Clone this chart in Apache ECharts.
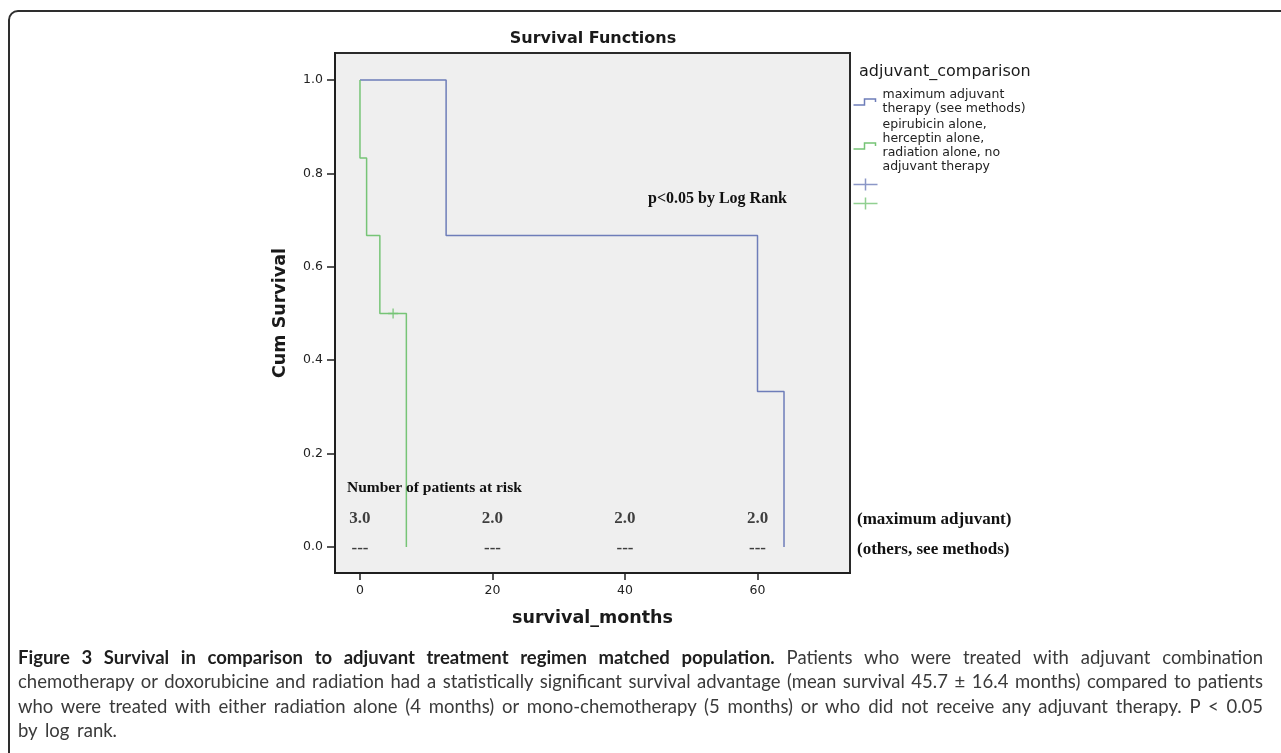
<!DOCTYPE html>
<html>
<head>
<meta charset="utf-8">
<script src="https://cdn.jsdelivr.net/npm/echarts@6/dist/echarts.min.js"></script>
<style>
  html, body { margin: 0; padding: 0; background: #fff; overflow: hidden; width: 1281px; height: 753px; }
  #frame { position: absolute; left: 8px; top: 10px; width: 1300px; height: 780px; border: 2px solid #2e2e2e; border-radius: 10px; box-sizing: border-box; }
  #chart { position: absolute; left: 0; top: 0; width: 1281px; height: 753px; }
  #caption { position: absolute; left: 18px; top: 645px; width: 1245px; font-family: Lato, 'Open Sans', sans-serif; font-size: 18.5px; line-height: 24.3px; color: #3a3a3a; }
  #caption .j { text-align: justify; text-align-last: justify; white-space: nowrap; }
  #caption b { color: #1e1e1e; font-weight: 700; }
  #caption .last { word-spacing: 3px; }
</style>
</head>
<body>
<div id="frame"></div>
<div id="chart"></div>
<div id="caption">
  <div class="j"><b>Figure 3 Survival in comparison to adjuvant treatment regimen matched population.</b> Patients who were treated with adjuvant combination</div>
  <div class="j">chemotherapy or doxorubicine and radiation had a statistically significant survival advantage (mean survival 45.7 ± 16.4 months) compared to patients</div>
  <div class="j">who were treated with either radiation alone (4 months) or mono-chemotherapy (5 months) or who did not receive any adjuvant therapy. P &lt; 0.05</div>
  <div class="last">by log rank.</div>
</div>
<script>
// ---- data ----
const groupNames = [
  'maximum adjuvant\ntherapy (see methods)',
  'epirubicin alone,\nherceptin alone,\nradiation alone, no\nadjuvant therapy'
];
const censorNames = ['maximum adjuvant censored', 'others censored'];
const maxAdjTime = [0, 13, 60, 64];
const maxAdjSurv = [1.0, 0.667, 0.333, 0.0];
const otherTime = [0, 0, 1, 3, 7];
const otherSurv = [1.0, 0.833, 0.667, 0.5, 0.0];
const maxAdjCensorTime = [];
const maxAdjCensorSurv = [];
const otherCensorTime = [5];
const otherCensorSurv = [0.5];
const xTickValues = [0, 20, 40, 60];
const yTickValues = [0, 0.2, 0.4, 0.6, 0.8, 1.0];
const riskTimes = [0, 20, 40, 60];
const riskMaxAdj = ['3.0', '2.0', '2.0', '2.0'];
const riskOthers = ['---', '---', '---', '---'];

// ---- styles ----
const BLUE = '#6e7db9';
const GREEN = '#76c476';
const AXIS = '#1f1f1f';
const SANS = 'DejaVu Sans';
const SERIF = 'Liberation Serif';

const zip = (a, b) => a.map((v, i) => [v, b[i]]);
const plusPath = 'path://M4.25,0H5.75V4.25H10V5.75H5.75V10H4.25V5.75H0V4.25H4.25Z';
const stepIcon = 'path://M0,0M0,9H11V3H22V6M24,12';
const crossIcon = 'path://M0,6H24M12,0V12';

const chart = echarts.init(document.getElementById('chart'), null, { renderer: 'canvas' });
chart.setOption({
  animation: false,
  grid: {
    left: 335, top: 53, width: 515, height: 520,
    show: true, backgroundColor: '#efefef', borderColor: '#2a2a2a', borderWidth: 2
  },
  xAxis: {
    type: 'value', min: -3.77, max: 73.96,
    name: 'survival_months', nameLocation: 'middle', nameGap: 36,
    nameTextStyle: { fontFamily: SANS, fontWeight: 'bold', fontSize: 17.5, color: '#1a1a1a' },
    axisLine: { show: true, onZero: false, lineStyle: { color: AXIS, width: 2 } },
    axisTick: { show: true, customValues: xTickValues, length: 7, lineStyle: { color: AXIS, width: 1.5 } },
    axisLabel: { customValues: xTickValues, margin: 11, fontFamily: SANS, fontSize: 12.5, color: '#222' },
    splitLine: { show: false }
  },
  yAxis: {
    type: 'value', min: -0.0557, max: 1.0576,
    name: 'Cum Survival', nameLocation: 'middle', nameGap: 46,
    nameTextStyle: { fontFamily: SANS, fontWeight: 'bold', fontSize: 17.5, color: '#1a1a1a' },
    axisLine: { show: true, onZero: false, lineStyle: { color: AXIS, width: 2 } },
    axisTick: { show: true, customValues: yTickValues, length: 8, lineStyle: { color: AXIS, width: 1.5 } },
    axisLabel: { customValues: yTickValues, margin: 12, fontFamily: SANS, fontSize: 12.5, color: '#222',
      formatter: v => v.toFixed(1) },
    splitLine: { show: false }
  },
  legend: {
    orient: 'vertical', left: 851, top: 88, padding: 0, itemGap: 2,
    itemWidth: 24, itemHeight: 12,
    textStyle: { fontFamily: SANS, fontSize: 12.5, lineHeight: 14, color: '#222' },
    formatter: n => (censorNames.indexOf(n) >= 0 ? '' : n),
    selectedMode: false,
    data: [
      { name: groupNames[0], icon: stepIcon, itemStyle: { color: 'none', borderColor: BLUE, borderWidth: 1.5 } },
      { name: groupNames[1], icon: stepIcon, itemStyle: { color: 'none', borderColor: GREEN, borderWidth: 1.5 } },
      { name: censorNames[0], icon: crossIcon, itemStyle: { color: 'none', borderColor: BLUE, borderWidth: 1.5 } },
      { name: censorNames[1], icon: crossIcon, itemStyle: { color: 'none', borderColor: GREEN, borderWidth: 1.5 } }
    ]
  },
  graphic: [
    { type: 'text', x: 593, y: 39, style: { text: 'Survival Functions', font: 'bold 16px "DejaVu Sans"', fill: '#1a1a1a', align: 'center', verticalAlign: 'middle' } },
    { type: 'text', x: 859, y: 72, style: { text: 'adjuvant_comparison', font: '16px "DejaVu Sans"', fill: '#1a1a1a', align: 'left', verticalAlign: 'middle' } },
    { type: 'text', x: 648, y: 199, z: 10, style: { text: 'p<0.05 by Log Rank', font: 'bold 16px "Liberation Serif"', fill: '#111', align: 'left', verticalAlign: 'middle' } },
    { type: 'text', x: 347, y: 488, z: 10, style: { text: 'Number of patients at risk', font: 'bold 15.5px "Liberation Serif"', fill: '#111', align: 'left', verticalAlign: 'middle' } },
    { type: 'text', x: 857, y: 520, z: 10, style: { text: '(maximum adjuvant)', font: 'bold 17px "Liberation Serif"', fill: '#111', align: 'left', verticalAlign: 'middle' } },
    { type: 'text', x: 857, y: 550, z: 10, style: { text: '(others, see methods)', font: 'bold 17px "Liberation Serif"', fill: '#111', align: 'left', verticalAlign: 'middle' } }
  ],
  series: [
    {
      name: groupNames[0], type: 'line', step: 'end', showSymbol: false, symbol: 'none',
      data: zip(maxAdjTime, maxAdjSurv), color: BLUE,
      lineStyle: { color: BLUE, width: 1.5 }, z: 3
    },
    {
      name: groupNames[1], type: 'line', step: 'end', showSymbol: false, symbol: 'none',
      data: zip(otherTime, otherSurv), color: GREEN,
      lineStyle: { color: GREEN, width: 1.5 }, z: 4
    },
    {
      name: censorNames[0], type: 'scatter', symbol: plusPath, symbolSize: 10,
      data: zip(maxAdjCensorTime, maxAdjCensorSurv), itemStyle: { color: BLUE }, z: 5
    },
    {
      name: censorNames[1], type: 'scatter', symbol: plusPath, symbolSize: 10,
      data: zip(otherCensorTime, otherCensorSurv), itemStyle: { color: GREEN }, z: 5
    },
    {
      name: 'riskMaxAdj', type: 'scatter', symbol: 'circle', symbolSize: 0.1, silent: true,
      itemStyle: { color: 'transparent' },
      data: riskTimes.map(t => [t, 0.06]),
      label: { show: true, position: 'inside', formatter: p => riskMaxAdj[p.dataIndex],
        fontFamily: SERIF, fontWeight: 'bold', fontSize: 17, color: '#111' }, z: 10
    },
    {
      name: 'riskOthers', type: 'scatter', symbol: 'circle', symbolSize: 0.1, silent: true,
      itemStyle: { color: 'transparent' },
      data: riskTimes.map(t => [t, -0.003]),
      label: { show: true, position: 'inside', formatter: p => riskOthers[p.dataIndex],
        fontFamily: SERIF, fontWeight: 'bold', fontSize: 17, color: '#111' }, z: 10
    }
  ]
});
</script>
</body>
</html>
